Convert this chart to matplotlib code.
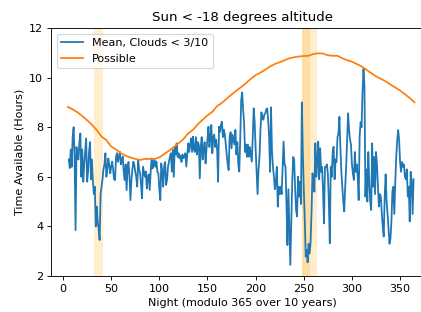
import numpy as np
import matplotlib
matplotlib.use("Agg")
import matplotlib.pyplot as plt

# Mean dark hours with clouds < 3/10, one value per night starting at night 6
blue = [
    6.7, 6.35, 7.1, 6.4, 7.6, 8.0, 6.8, 3.85, 7.2, 6.8,
    6.7, 7.4, 7.75, 6.0, 7.1, 5.8, 6.5, 7.0, 7.55, 5.8,
    6.2, 7.0, 7.4, 5.9, 6.7, 5.8, 5.3, 5.6, 4.0, 4.8,
    4.2, 3.9, 3.45, 5.3, 5.6, 5.9, 6.3, 6.5, 6.95, 6.0,
    6.3, 6.74, 6.5, 6.14, 6.4, 6.61, 6.3, 5.9, 5.87, 6.8,
    6.95, 6.6, 6.81, 7.01, 6.5, 6.68, 6.81, 6.2, 5.87, 6.5,
    5.46, 6.34, 6.6, 6.0, 5.06, 5.87, 6.3, 6.61, 6.48, 6.2,
    6.0, 5.6, 6.68, 6.3, 6.14, 5.7, 5.13, 6.41, 6.2, 6.0,
    6.21, 5.53, 6.0, 6.1, 5.47, 6.2, 6.74, 6.34, 6.5, 6.68,
    6.4, 6.61, 6.2, 6.14, 5.5, 5.06, 6.54, 6.2, 5.6, 6.41,
    6.6, 5.67, 5.87, 6.41, 6.6, 6.81, 6.95, 6.21, 7.08, 6.0,
    7.2, 6.9, 7.35, 6.8, 6.95, 6.74, 6.85, 6.6, 6.9, 6.75,
    6.8, 6.95, 6.41, 6.9, 7.35, 7.0, 7.3, 7.55, 7.0, 7.62,
    7.1, 7.0, 7.6, 6.9, 7.4, 7.3, 5.94, 7.2, 7.6, 6.7,
    7.1, 7.4, 6.54, 7.15, 7.5, 8.02, 7.2, 7.6, 8.09, 6.95,
    7.6, 7.7, 7.2, 7.5, 7.1, 5.8, 8.02, 7.8, 8.1, 8.22,
    7.6, 7.9, 7.7, 7.3, 6.9, 6.5, 6.27, 7.6, 7.8, 7.15,
    7.7, 7.5, 7.3, 7.89, 6.9, 7.4, 6.5, 6.21, 7.5, 9.1,
    9.4, 8.7, 8.2, 7.0, 7.3, 6.8, 7.3, 6.81, 7.2, 6.9,
    6.61, 7.6, 8.76, 8.2, 7.1, 6.2, 5.3, 6.3, 6.8, 7.9,
    8.6, 8.4, 8.3, 8.5, 8.56, 8.7, 8.76, 8.3, 7.6, 6.2,
    8.8, 7.0, 6.4, 6.0, 5.5, 5.8, 6.4, 4.8, 5.6, 5.3,
    5.6, 5.3, 6.4, 7.42, 6.5, 6.41, 4.93, 3.25, 5.5, 4.0,
    2.45, 4.2, 5.8, 6.8, 6.7, 5.5, 4.66, 4.4, 6.0, 5.2,
    5.8, 4.9, 9.0, 7.0, 5.47, 4.3, 2.78, 3.05, 2.55, 3.3,
    2.9, 3.32, 4.5, 6.14, 6.0, 5.4, 7.35, 6.0, 6.6, 7.42,
    5.9, 7.15, 6.2, 6.4, 5.4, 4.12, 6.4, 6.4, 6.5, 6.1,
    5.0, 3.32, 6.4, 6.0, 7.0, 7.21, 5.9, 6.7, 6.6, 7.6,
    7.75, 8.42, 7.2, 6.2, 5.6, 5.0, 4.6, 5.6, 6.4, 7.5,
    8.56, 7.9, 7.5, 7.3, 6.5, 6.14, 5.87, 7.0, 6.2, 6.5,
    6.0, 5.06, 7.62, 8.2, 8.0, 9.43, 10.35, 9.7, 5.2, 6.3,
    5.0, 7.0, 5.8, 5.0, 4.66, 7.35, 5.6, 6.8, 5.3, 7.0,
    6.5, 5.6, 4.8, 5.3, 5.2, 4.53, 4.0, 3.59, 5.2, 6.1,
    5.0, 4.5, 3.9, 3.3, 3.5, 4.2, 5.4, 5.6, 4.5, 5.8,
    6.8, 7.48, 7.89, 7.5, 6.6, 6.2, 6.6, 6.4, 6.5, 6.0,
    5.9, 6.3, 5.2, 5.6, 4.2, 6.2, 5.8, 4.5, 5.9,
]
blue_first_night = 6

# Possible dark hours, sampled every 5 nights
possible_nights = list(range(5, 366, 5))
possible = [
    8.82, 8.72, 8.60, 8.45, 8.28, 8.10, 7.88, 7.62, 7.48, 7.22,
    7.10, 6.95, 6.85, 6.78, 6.72, 6.68, 6.72, 6.72, 6.72, 6.78,
    6.92, 7.05, 7.20, 7.35, 7.52, 7.75, 7.90, 8.12, 8.30, 8.48,
    8.62, 8.85, 8.98, 9.15, 9.32, 9.47, 9.62, 9.78, 9.95, 10.10,
    10.20, 10.32, 10.45, 10.55, 10.62, 10.70, 10.78, 10.82, 10.85, 10.87,
    10.88, 10.95, 10.98, 10.97, 10.90, 10.88, 10.88, 10.78, 10.70, 10.64,
    10.55, 10.45, 10.32, 10.18, 10.05, 9.95, 9.85, 9.72, 9.60, 9.48,
    9.33, 9.18, 9.00,
]

# Highlighted night ranges
spans = [(32.5, 41.0), (248.4, 256.8), (248.4, 263.3)]

blue_nights = np.arange(blue_first_night, blue_first_night + len(blue))

DPI = 80
fig = plt.figure(figsize=(421 / DPI, 312 / DPI), dpi=DPI)
x0, x1 = -12.5, 385
ppd = 0.963  # pixels per night
ax = fig.add_axes([51 / 421, 36 / 312, (x1 - x0) * ppd / 421, 248 / 312])

for a, b in spans:
    ax.axvspan(a, b, color="orange", alpha=0.2, lw=0, zorder=0)

ax.plot(blue_nights, blue, color="#1f77b4", lw=1.6, label="Mean, Clouds < 3/10", zorder=2)
ax.plot(possible_nights, possible, color="#ff7f0e", lw=1.6, label="Possible", zorder=3)

ax.set_xlim(x0, x1)
ax.set_ylim(2, 12)
ax.set_xticks([0, 50, 100, 150, 200, 250, 300, 350])
ax.set_yticks([2, 4, 6, 8, 10, 12])
ax.tick_params(labelsize=10)
ax.set_title("Sun < -18 degrees altitude", fontsize=12)
ax.set_xlabel("Night (modulo 365 over 10 years)", fontsize=10)
ax.set_ylabel("Time Available (Hours)", fontsize=10)
ax.legend(loc="upper left", fontsize=10)

fig.savefig("out.png", dpi=DPI)
